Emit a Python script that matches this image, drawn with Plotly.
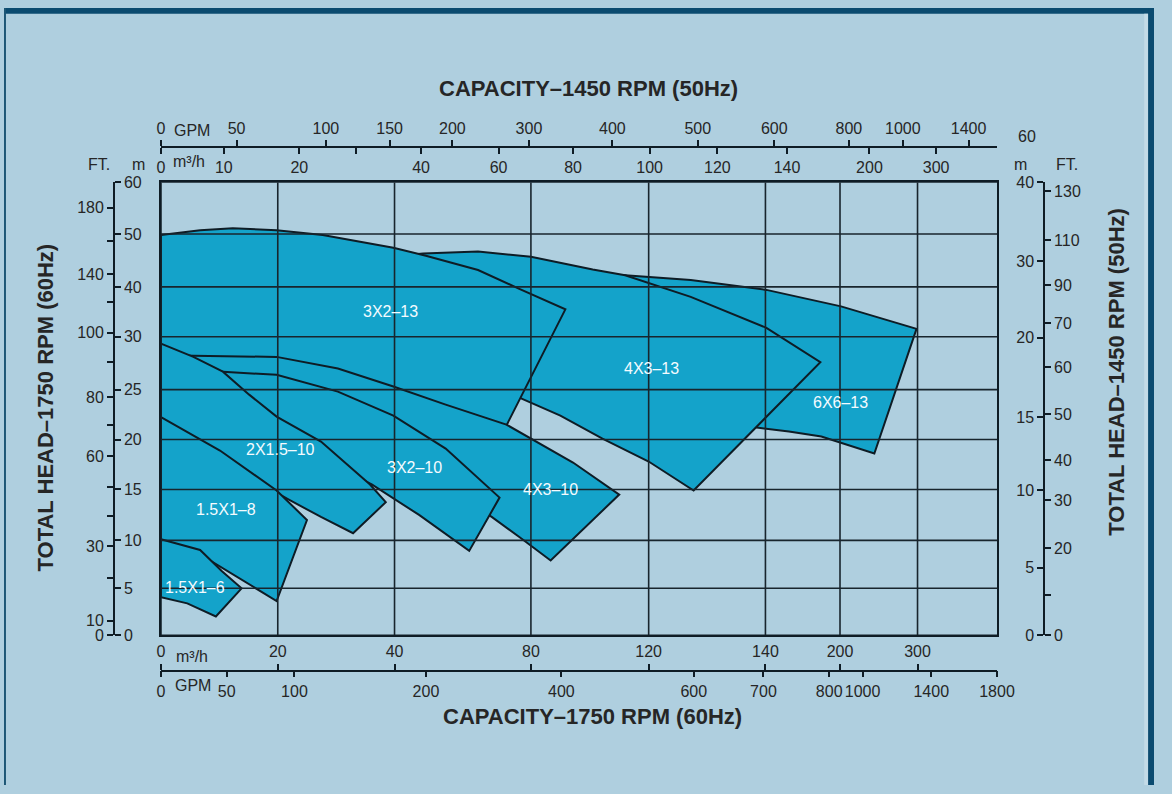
import numpy as np
import plotly.graph_objects as go

W, H = 1172, 794

# ---------------- data: printed axis scales ----------------
CAP_M3H_60HZ = [0, 20, 40, 80, 120, 140, 200, 300]            # bottom m3/h labels (grid lines)
HEAD_M_60HZ = [0, 5, 10, 15, 20, 25, 30, 40, 50, 60]            # left m labels (grid lines)
CAP_GPM_60HZ = ["0", "50", "100", "200", "400", "600", "700", "800", "1000", "1400", "1800"]
CAP_GPM_50HZ = ["0", "50", "100", "150", "200", "300", "400", "500", "600", "800", "1000", "1400"]
CAP_M3H_50HZ = ["0", "10", "20", "", "40", "60", "80", "100", "120", "140", "200", "300"]
HEAD_FT_60HZ = ["0", "10", "", "30", "", "", "60", "", "80", "", "100", "", "140", "", "180"]
HEAD_M_50HZ = ["0", "5", "10", "15", "20", "30", "40"]
HEAD_FT_50HZ = ["0", "", "20", "30", "40", "50", "60", "70", "90", "110", "130"]

# ---------------- data: pump coverage areas (capacity m3/h, head m) ----------------
# order = drawing order (bottom layer first)
PUMP_NAMES = ["6X6–13", "4X3–13", "3X2–13", "4X3–10", "3X2–10", "2X1.5–10", "1.5X1–8", "1.5X1–6"]

TOP_6X6_13 = [(0, 39.0), (40.6, 40.0), (84.3, 41.7), (112, 42.2), (127.2, 41.3), (140.8, 39.4), (201.3, 36.1), (298.7, 31.6)]
BOT_6X6_13 = [(0, 33.1), (69.4, 28.7), (101, 25.9), (127.2, 23.0), (138.5, 21.2), (158.9, 20.8), (185, 20.3), (244.3, 18.6)]

TOP_4X3_13 = [(0, 44.3), (31.9, 45.0), (48.4, 46.3), (64.5, 46.7), (80, 45.7), (101, 43.3), (112, 42.2), (127.2, 38.0), (140.8, 31.8), (184.2, 27.6)]
BOT_4X3_13 = [(0, 37.1), (23.5, 34.1), (55.0, 27.3), (76.6, 24.2), (90, 22.4), (104.3, 20.1), (120, 17.8), (127.7, 14.9)]

TOP_3X2_13 = [(0, 49.8), (6.7, 50.75), (12.3, 51.1), (19.8, 50.75), (27.7, 49.8), (39.8, 47.4), (49.2, 45.9), (64.5, 43.2), (76.6, 39.6), (91.7, 35.5)]
BOT_3X2_13 = [(0, 26.9), (19.8, 26.7), (39.8, 24.5), (55.0, 22.8), (72.8, 21.4)]

TOP_4X3_10 = [(0, 28.3), (5.55, 28.2), (19.8, 28.1), (30.3, 27.0), (39.8, 25.3), (55.0, 23.5), (72.8, 21.5), (80, 20.1), (94.3, 17.7), (110, 14.5)]
BOT_4X3_10 = [(0, 24.0), (23.5, 22.1), (37.0, 18.6), (46.3, 16.7), (57.8, 14.5), (68.5, 12.3), (77.1, 10.2), (86.7, 7.9)]

TOP_3X2_10 = [(0, 26.7), (10.6, 26.7), (19.8, 26.4), (30.3, 24.8), (39.8, 22.4), (55.0, 19.1), (70.8, 14.2)]
BOT_3X2_10 = [(0, 22.1), (21.9, 19.6), (36.1, 15.5), (40.6, 13.9), (47.2, 12.5), (61.9, 8.9)]

TOP_2X15_10 = [(0, 29.35), (5.55, 28.1), (10.6, 26.7), (15.1, 24.5), (19.8, 22.3), (27.4, 19.8), (35.8, 15.5), (38.5, 13.75)]
BOT_2X15_10 = [(0, 21.1), (13.5, 16.7), (21.9, 14.0), (27.4, 12.3), (32.9, 10.7)]

TOP_15X1_8 = [(0, 22.25), (10.1, 18.9), (19.8, 14.9), (25.0, 12.0)]
BOT_15X1_8 = [(0, 9.7), (7.6, 8.2), (13.5, 6.0), (19.8, 3.65)]

TOP_15X1_6 = [(0, 10.1), (6.7, 9.0), (10.4, 6.8), (13.8, 5.0)]
BOT_15X1_6 = [(0, 4.06), (4.5, 3.4), (9.4, 2.0)]

PUMP_TOPS = [TOP_6X6_13, TOP_4X3_13, TOP_3X2_13, TOP_4X3_10, TOP_3X2_10, TOP_2X15_10, TOP_15X1_8, TOP_15X1_6]
PUMP_BOTS = [BOT_6X6_13, BOT_4X3_13, BOT_3X2_13, BOT_4X3_10, BOT_3X2_10, BOT_2X15_10, BOT_15X1_8, BOT_15X1_6]

LABEL_CAP = [200, 120.5, 39.3, 86.7, 45.8, 20.5, 11.1, 5.9]
LABEL_HEAD = [23.7, 27.0, 35.1, 15.0, 17.2, 19.0, 13.0, 5.1]

# ---------------- layout: measured positions (page pixels) ----------------
PL, PR, PT, PB = 160, 1012, 178, 641
X_GRID_PX = [160, 279, 398, 537, 657, 776, 852, 931]
Y_GRID_PX = [641, 593, 544, 492, 441, 390, 336, 285, 231, 178]
GPM60_PX = [160, 227, 296, 430, 568, 703, 774, 841, 875, 945, 1012]
GPM50_PX = [160, 237, 328, 393, 457, 535, 620, 707, 785, 861, 916, 983]
M3H50_PX = [160, 224, 301, 359, 425, 504, 580, 658, 727, 798, 882, 950]
FT60_PX = [641, 626, 582, 550, 519, 489, 458, 426, 398, 362, 332, 300, 272, 238, 204]
M50_PX = [641, 572, 493, 418, 337, 259, 178]
FT50_PX = [641, 600, 552, 503, 462, 415, 367, 322, 283, 237, 187]


def fx(p):
    return (np.asarray(p, float) - PL) / (PR - PL)


def fy(p):
    return (PB - np.asarray(p, float)) / (PB - PT)


X_GRID_F = fx(X_GRID_PX)
Y_GRID_F = fy(Y_GRID_PX)


def xq(q):
    return np.interp(q, CAP_M3H_60HZ, X_GRID_F)


def yh(h):
    return np.interp(h, HEAD_M_60HZ, Y_GRID_F)


def paper_x(p):
    return p / W


def paper_y(p):
    return 1 - p / H


BG = "#afcfdf"
FILL = "#14a3ca"
EDGE = "#0e1c25"
GRID = "#18252d"
TXT = "#262626"
NAVY = "#0b4b70"
FONT = "Liberation Sans, Arial, sans-serif"

fig = go.Figure()

for name, top, bot in zip(PUMP_NAMES, PUMP_TOPS, PUMP_BOTS):
    pts = list(top) + list(reversed(bot)) + [top[0]]
    q = [p[0] for p in pts]
    h = [p[1] for p in pts]
    fig.add_trace(go.Scatter(x=xq(q), y=yh(h), mode="lines", fill="toself", fillcolor=FILL,
                             line=dict(color=EDGE, width=2), name=name, hoverinfo="skip",
                             showlegend=False))

# invisible anchor traces so every extra axis is drawn
for ax in ["x2", "x3", "x4", "x5"]:
    fig.add_trace(go.Scatter(x=[0.5], y=[0.5], xaxis=ax, yaxis="y", mode="markers",
                             marker=dict(opacity=0), hoverinfo="skip", showlegend=False))
for ax in ["y2", "y3", "y4", "y5"]:
    fig.add_trace(go.Scatter(x=[0.5], y=[0.5], xaxis="x", yaxis=ax, mode="markers",
                             marker=dict(opacity=0), hoverinfo="skip", showlegend=False))

shapes = []
for v in CAP_M3H_60HZ:
    shapes.append(dict(type="line", xref="x", yref="y", x0=xq(v), x1=xq(v), y0=0, y1=1,
                       line=dict(color=GRID, width=1.6), layer="above"))
for v in HEAD_M_60HZ:
    shapes.append(dict(type="line", xref="x", yref="y", x0=0, x1=1, y0=yh(v), y1=yh(v),
                       line=dict(color=GRID, width=1.6), layer="above"))
# page frame decoration
shapes += [
    dict(type="rect", xref="paper", yref="paper", x0=0, x1=1, y0=paper_y(6), y1=1,
         line=dict(width=0), fillcolor=NAVY, layer="above"),
    dict(type="rect", xref="paper", yref="paper", x0=0, x1=paper_x(2), y0=0, y1=1,
         line=dict(width=0), fillcolor="#1d5675", layer="above"),
    dict(type="rect", xref="paper", yref="paper", x0=paper_x(1162), x1=paper_x(1166), y0=0, y1=paper_y(6),
         line=dict(width=0), fillcolor="#c3dbe7", layer="above"),
    dict(type="rect", xref="paper", yref="paper", x0=paper_x(1166), x1=1, y0=0, y1=1,
         line=dict(width=0), fillcolor=NAVY, layer="above"),
]

tickfont = dict(family=FONT, size=16, color=TXT)
xdom = [paper_x(PL), paper_x(PR)]
ydom = [paper_y(PB), paper_y(PT)]

common_free = dict(range=[0, 1], showgrid=False, zeroline=False, showline=True, linecolor=EDGE,
                   linewidth=1.6, ticks="outside", ticklen=6, tickwidth=1.6, tickcolor=EDGE,
                   tickfont=tickfont, tickmode="array", fixedrange=True)

layout = dict(
    width=W, height=H, margin=dict(l=0, r=0, t=0, b=0),
    paper_bgcolor=BG, plot_bgcolor=BG, hovermode=False, showlegend=False,
    xaxis=dict(domain=xdom, range=[0, 1], tickmode="array", tickvals=X_GRID_F, showticklabels=False,
               ticks="", showgrid=False, zeroline=False, showline=True, mirror=True,
               linecolor=EDGE, linewidth=2.2, fixedrange=True),
    yaxis=dict(domain=ydom, range=[0, 1], tickmode="array", tickvals=Y_GRID_F, showticklabels=False,
               ticks="", showgrid=False, zeroline=False, showline=True, mirror=True,
               linecolor=EDGE, linewidth=2.2, fixedrange=True),
    # bottom: GPM below, m3/h above
    xaxis2=dict(overlaying="x", anchor="free", position=paper_y(677), side="bottom",
                tickvals=fx(GPM60_PX), ticktext=CAP_GPM_60HZ, **common_free),
    xaxis3=dict(overlaying="x", anchor="free", position=paper_y(677), side="top",
                tickvals=X_GRID_F, ticktext=[str(v) for v in CAP_M3H_60HZ], **common_free),
    # top: GPM above, m3/h below
    xaxis4=dict(overlaying="x", anchor="free", position=paper_y(142), side="top",
                tickvals=fx(GPM50_PX), ticktext=CAP_GPM_50HZ, **common_free),
    xaxis5=dict(overlaying="x", anchor="free", position=paper_y(142), side="bottom",
                tickvals=fx(M3H50_PX), ticktext=CAP_M3H_50HZ, **common_free),
    # left: FT left, m right
    yaxis2=dict(overlaying="y", anchor="free", position=paper_x(112), side="left",
                tickvals=fy(FT60_PX), ticktext=HEAD_FT_60HZ, **common_free),
    yaxis3=dict(overlaying="y", anchor="free", position=paper_x(112), side="right",
                tickvals=Y_GRID_F, ticktext=[str(v) for v in HEAD_M_60HZ], **common_free),
    # right: m left, FT right
    yaxis4=dict(overlaying="y", anchor="free", position=paper_x(1060), side="left",
                tickvals=fy(M50_PX), ticktext=HEAD_M_50HZ, **common_free),
    yaxis5=dict(overlaying="y", anchor="free", position=paper_x(1060), side="right",
                tickvals=fy(FT50_PX), ticktext=HEAD_FT_50HZ, **common_free),
    shapes=shapes,
)
fig.update_layout(**layout)

ann = []
for name, q, h in zip(PUMP_NAMES, LABEL_CAP, LABEL_HEAD):
    ann.append(dict(x=float(xq(q)), y=float(yh(h)), xref="x", yref="y", text=name, showarrow=False,
                    font=dict(family=FONT, size=16, color="#f4fbff")))

title_font = dict(family=FONT, size=22, color=TXT, weight="bold")
small = dict(family=FONT, size=16, color=TXT)


def pa(text, x, y, font, angle=0):
    return dict(x=paper_x(x), y=paper_y(y), xref="paper", yref="paper", text=text, showarrow=False,
                font=font, textangle=angle, xanchor="center", yanchor="middle")


ann += [
    pa("CAPACITY–1450 RPM (50Hz)", 596, 82, title_font),
    pa("CAPACITY–1750 RPM (60Hz)", 600, 724, title_font),
    pa("TOTAL HEAD–1750 RPM (60Hz)", 42, 408, title_font, -90),
    pa("TOTAL HEAD–1450 RPM (50Hz)", 1133, 372, title_font, -90),
    pa("FT.", 97, 160, small), pa("m", 137, 160, small),
    pa("m", 1036, 160, small), pa("FT.", 1083, 160, small),
    pa("60", 1043, 131, small),
    pa("GPM", 192, 125, small), pa("m³/h", 189, 157, small),
    pa("m³/h", 192, 663, small), pa("GPM", 193, 692, small),
]
fig.update_layout(annotations=ann)

fig.write_html("out.html", config={"displayModeBar": False},
               post_script="document.body.style.margin='0';document.body.style.overflow='hidden';")
